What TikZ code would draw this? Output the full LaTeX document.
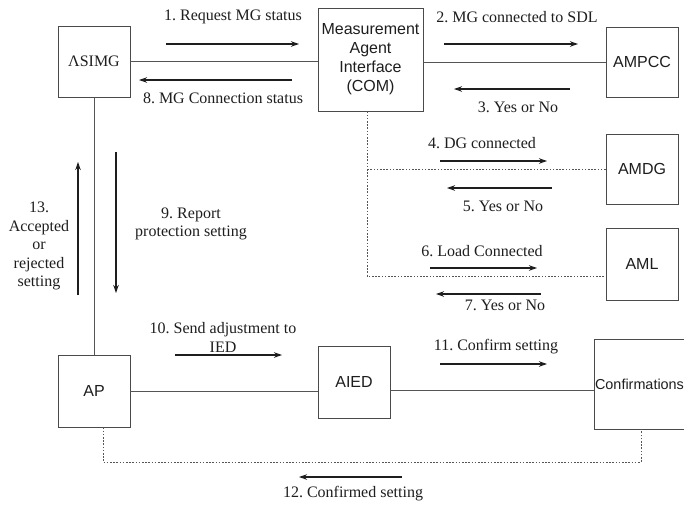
\documentclass[tikz,border=0pt]{standalone}
\usepackage{fontspec}
\setmainfont{Liberation Serif}
\setsansfont{Liberation Sans}
\usetikzlibrary{arrows.meta}
\definecolor{boxline}{HTML}{4A4A4A}
\definecolor{wire}{HTML}{555555}
\definecolor{ink}{HTML}{1E1E1E}
\frenchspacing
\begin{document}
\begin{tikzpicture}[x=1pt,y=-1pt,
  agent/.style={draw=boxline, line width=0.9pt, rectangle, inner sep=0pt,
    minimum width=72pt, minimum height=71pt, font=\sffamily\fontsize{16}{19}\selectfont,
    text=ink, align=center},
  link/.style={draw=wire, line width=0.9pt},
  dotlink/.style={draw=wire, line width=0.8pt, dash pattern=on 1.6pt off 1.6pt},
  msg/.style={draw=ink, line width=1.1pt, -{Stealth[length=8pt,width=5.5pt]}},
  lbl/.style={font=\fontsize{16}{18.5}\selectfont, text=ink, align=center, inner sep=0pt}]
\useasboundingbox (0,0) rectangle (684,504);
\fill[white] (0,0) rectangle (684,504);

% agents
\node[agent, font=\fontsize{16}{19}\selectfont] (asimg) at (94,61.5) {ΛSIMG};
\node[agent, minimum width=105pt, minimum height=103pt] (mai) at (370.5,59.5)
  {Measurement\\Agent\\Interface\\(COM)};
\node[agent, minimum height=70pt] (ampcc) at (642,62) {AMPCC};
\node[agent, minimum height=70pt] (amdg) at (642,169) {AMDG};
\node[agent, minimum height=72pt] (aml) at (642,264) {AML};
\node[agent, minimum height=72pt] (ap) at (94,391) {AP};
\node[agent, minimum height=72pt] (aied) at (354,382) {AIED};
\node[agent, minimum width=90pt, minimum height=90pt,
  font=\sffamily\fontsize{14.4}{17}\selectfont] (conf) at (639.5,384) {Confirmations};

% solid links
\draw[link] (asimg.east) -- (mai.west |- asimg.east);
\draw[link] (mai.east |- ampcc.west) -- (ampcc.west);
\draw[link] (asimg.south) -- (ap.north);
\draw[link] (ap.east) -- (aied.west |- ap.east);
\coordinate (aiedout) at ([yshift=-8pt]aied.east);
\draw[link] (aiedout) -- (conf.west |- aiedout);

% dotted links
\coordinate (comdrop) at ([xshift=-3.5pt]mai.south);
\coordinate (amlin) at ([yshift=-12pt]aml.west);
\draw[dotlink] (comdrop) |- (amlin);
\draw[dotlink] (amdg.west) -- (amdg.west -| comdrop);
\coordinate (apdrop) at ([xshift=9pt]ap.south);
\coordinate (confdrop) at ([xshift=1.5pt]conf.south);
\coordinate (rail) at (0,462);
\draw[dotlink] (apdrop) -- (apdrop |- rail) -| (confdrop);

% message arrows
\coordinate (m1a) at (166,44);  \coordinate (m1b) at (299,44);
\coordinate (m8a) at (292,80);  \coordinate (m8b) at (139,80);
\coordinate (m2a) at (444,44);  \coordinate (m2b) at (578,44);
\coordinate (m3a) at (570,89);  \coordinate (m3b) at (454,89);
\coordinate (m4a) at (440,161); \coordinate (m4b) at (547,161);
\coordinate (m5a) at (552,188); \coordinate (m5b) at (447,188);
\coordinate (m6a) at (430,268); \coordinate (m6b) at (537,268);
\coordinate (m7a) at (541,294); \coordinate (m7b) at (436,294);
\coordinate (m9a) at (116,152); \coordinate (m9b) at (116,293);
\coordinate (m13a) at (78,295); \coordinate (m13b) at (78,162);
\coordinate (m10a) at (175,355); \coordinate (m10b) at (282,355);
\coordinate (m11a) at (440,364); \coordinate (m11b) at (547,364);
\coordinate (m12a) at (402,477); \coordinate (m12b) at (299,477);
\foreach \m in {1,2,3,4,5,6,7,8,9,10,11,12,13}
  \draw[msg] (m\m a) -- (m\m b);

% message labels
\node[lbl] (l1) at (233,17) {1. Request MG status};
\node[lbl] (l8) at (223,98) {8. MG Connection status};
\node[lbl] (l2) at (517,17) {2. MG connected to SDL};
\node[lbl] (l3) at (518,107) {3. Yes or No};
\node[lbl] (l4) at (482,143) {4. DG connected};
\node[lbl] (l5) at (503,206) {5. Yes or No};
\node[lbl] (l6) at (482,251) {6. Load Connected};
\node[lbl] (l7) at (505,305) {7. Yes or No};
\node[lbl] (l9) at (191,224) {9. Report\\protection setting};
\node[lbl] (l13) at (39,246) {13.\\Accepted\\or\\rejected\\setting};
\node[lbl] (l10) at (223,337.5) {10. Send adjustment to\\IED};
\node[lbl] (l11) at (496,347) {11. Confirm setting};
\node[lbl] (l12) at (353,494) {12. Confirmed setting};
\end{tikzpicture}
\end{document}
